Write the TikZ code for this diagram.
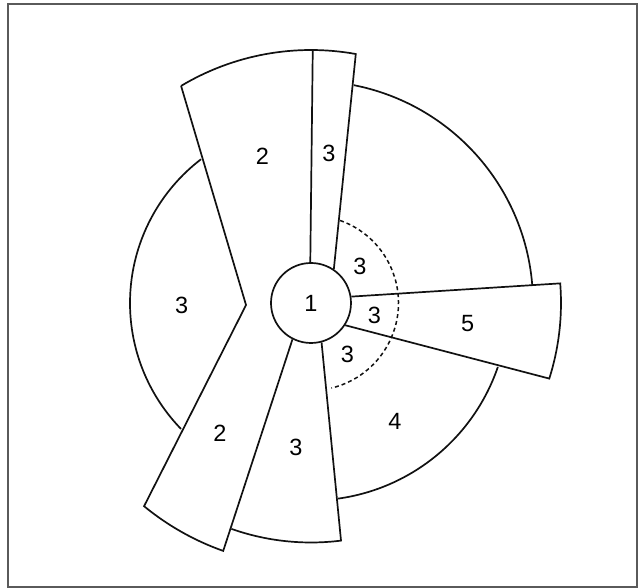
\documentclass[tikz,border=0pt]{standalone}
\usepackage{fontspec}
\setmainfont{Liberation Sans}
\usepackage{xcolor}
\usepackage{tikz}
\usetikzlibrary{
  positioning,
  calc
}
\definecolor{rsLine}{HTML}{111111}
\definecolor{rsFrame}{HTML}{5A5A5A}
\tikzset{
  rsedge/.style={draw=rsLine, line width=1.7pt, line join=miter},
  rsguide/.style={draw=rsLine, line width=1.5pt, dash pattern=on 4pt off 3pt},
  rshub/.style={
    circle, draw=rsLine, line width=1.7pt, minimum size=80pt, inner sep=0pt,
    fill=white, font=\fontsize{23.5}{26}\selectfont
  },
  rsnum/.style={font=\fontsize{23.5}{26}\selectfont, inner sep=0pt},
  rsframe/.style={draw=rsFrame, line width=1.6pt}
}

\begin{document}
\begin{tikzpicture}[x=1pt, y=1pt]
  \useasboundingbox[fill=white] (-311,-285) rectangle (327,303);
  \draw[rsframe] (-303,-284) rectangle (326,299);

  % wedge corners
  \coordinate (topl) at (120.9:253);
  \coordinate (topm) at (89.6:253);
  \coordinate (notch) at (181.8:65);
  \coordinate (lowl) at (230.6:263);
  \coordinate (lowb) at (250.6:239.5);
  \coordinate (fiveb) at (4.5:250);

  \node[rshub] (hub) at (0,0) {1};

  % wedges round the hub
  \draw[rsedge] (hub.91.4) -- (topm);
  \draw[rsedge] (topl) arc[start angle=120.9, end angle=79.8, radius=253] coordinate (topr) -- (hub.56.5);
  \draw[rsedge] (topl) -- (notch) -- (lowl) arc[start angle=230.6, end angle=250.5, radius=263] coordinate (lowr) -- (hub.243.4);
  \draw[rsedge] (lowb) arc[start angle=250.6, end angle=277.2, radius=239.5] coordinate (botr) -- (hub.285.8);
  \draw[rsedge] (hub.9) -- (fiveb) arc[start angle=4.5, end angle=-17.6, radius=250] coordinate (fivec) -- (hub.-33.3);

  % outer rims
  \draw[rsedge] (78.9:222) arc[start angle=78.9, end angle=4.7, radius=222];
  \draw[rsedge] (127.4:181) arc[start angle=127.4, end angle=224.1, radius=181];
  \draw[rsedge] (-18.9:197.5) arc[start angle=-18.9, end angle=-82.1, radius=197.5];
  \draw[rsguide] (70.6:87.5) arc[start angle=70.6, end angle=-76.5, radius=87.5];

  % numbers
  \node[rsnum] (nTopTwo) at (-48.7,146.3) {2};
  \node[rsnum] (nTopThree) at (18,150) {3};
  \node[rsnum] (nLeftThree) at (-129.3,-2) {3};
  \node[rsnum] (nInUp) at (49,36.3) {3};
  \node[rsnum] (nInMid) at (63.3,-12) {3};
  \node[rsnum] (nInLow) at (36.3,-51) {3};
  \node[rsnum] (nFive) at (156.7,-20.3) {5};
  \node[rsnum] (nLowTwo) at (-91,-130.3) {2};
  \node[rsnum] (nBotThree) at (-15,-144.7) {3};
  \node[rsnum] (nFour) at (84,-118.7) {4};
\end{tikzpicture}
\end{document}
